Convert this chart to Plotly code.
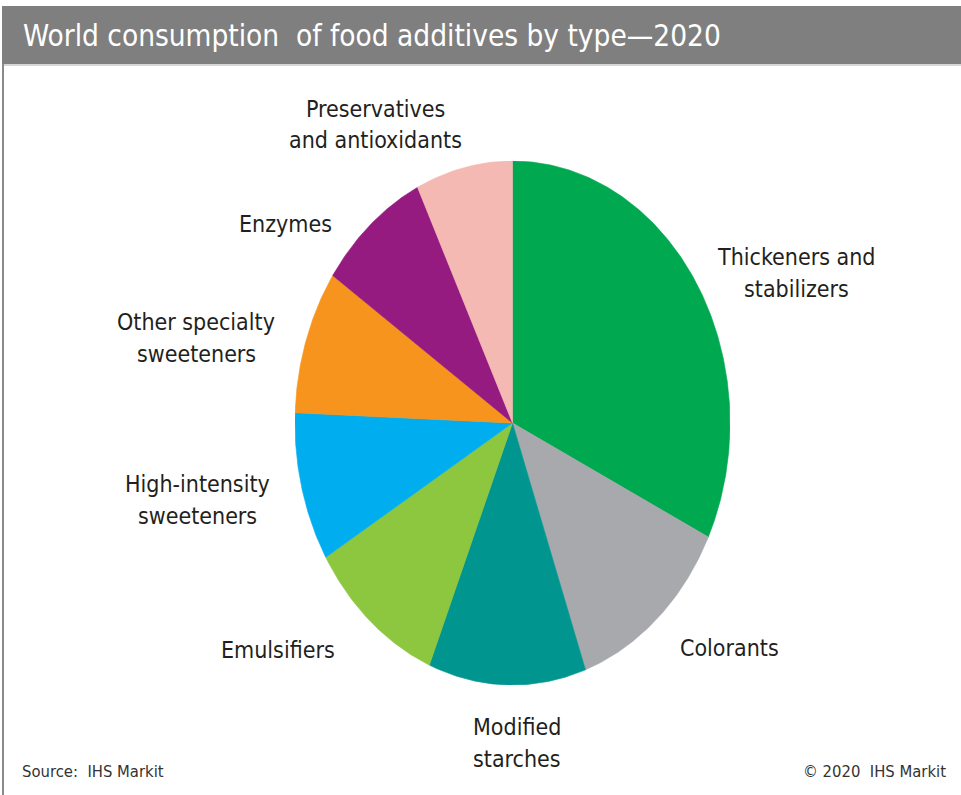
import numpy as np
import plotly.graph_objects as go

# Share of world food additive consumption, 2020 (percent), clockwise from 12 o'clock
categories = [
    "Thickeners and stabilizers",
    "Colorants",
    "Modified starches",
    "Emulsifiers",
    "High-intensity sweeteners",
    "Other specialty sweeteners",
    "Enzymes",
    "Preservatives and antioxidants",
]
shares = [32.2, 12.4, 11.7, 10.2, 9.2, 8.9, 8.3, 7.2]
colors = ["#00A84F", "#A7A9AC", "#00958F", "#8DC63F",
          "#00AEEF", "#F7941D", "#951B81", "#F4B9B2"]

# Slice label lines and their centre positions (pixels on a 961x795 page)
label_lines = [
    (["Thickeners and", "stabilizers"], 796, 257),
    (["Colorants"], 729, 648),
    (["Modified", "starches"], 517, 727),
    (["Emulsifiers"], 278, 650),
    (["High-intensity", "sweeteners"], 197, 484),
    (["Other specialty", "sweeteners"], 196, 322),
    (["Enzymes"], 285, 224),
    (["Preservatives", "and antioxidants"], 375, 109),
]

W, H = 961, 795
NARROW = "DejaVu Sans Condensed, Liberation Sans Narrow, Arial Narrow, sans-serif"


def px(x):
    return x / W


def py(y):
    return 1 - y / H


fig = go.Figure()

# Pie drawn as filled wedges on a [-1, 1] x [-1, 1] axis pair
total = sum(shares)
start = 0.0
for name, val, col in zip(categories, shares, colors):
    sweep = 360.0 * val / total
    th = np.radians(np.linspace(start, start + sweep, max(int(sweep * 2), 8)))
    xs = np.concatenate([[0.0], np.sin(th), [0.0]])
    ys = np.concatenate([[0.0], np.cos(th), [0.0]])
    fig.add_trace(go.Scatter(
        x=xs, y=ys, mode="lines", fill="toself",
        fillcolor=col, line=dict(color=col, width=0.6),
        name=name, hoverinfo="text",
        text=f"{name}: {val:.1f}%", showlegend=False,
    ))
    start += sweep

# Slice labels
for lines, cx, cy in label_lines:
    for i, t in enumerate(lines):
        yy = cy + i * 31.5
        fig.add_annotation(
            text=t, x=px(cx), y=py(yy), xref="paper", yref="paper",
            xanchor="center", yanchor="middle", showarrow=False,
            font=dict(family=NARROW, size=23, color="#231F20"),
        )

# Header band
fig.add_shape(type="rect", xref="paper", yref="paper",
              x0=px(2), x1=1, y0=py(64), y1=py(6),
              fillcolor="#7F7F7F", line=dict(width=0), layer="below")
fig.add_shape(type="line", xref="paper", yref="paper",
              x0=px(2), x1=1, y0=py(65), y1=py(65),
              line=dict(color="#C8C8C8", width=1.5))
# Left frame rule
fig.add_shape(type="line", xref="paper", yref="paper",
              x0=px(3), x1=px(3), y0=py(64), y1=0,
              line=dict(color="#8A8A8A", width=2))

fig.add_annotation(
    text="World consumption  of food additives by type\u20142020",
    x=px(21), y=py(36), xref="paper", yref="paper",
    xanchor="left", yanchor="middle", showarrow=False,
    font=dict(family=NARROW, size=29.5, color="#FFFFFF"),
)

fig.add_annotation(
    text="Source:  IHS Markit", x=px(20), y=py(771), xref="paper", yref="paper",
    xanchor="left", yanchor="middle", showarrow=False,
    font=dict(family=NARROW, size=16.5, color="#333333"),
)
fig.add_annotation(
    text="\u00a9 2020  IHS Markit", x=px(948), y=py(771), xref="paper", yref="paper",
    xanchor="right", yanchor="middle", showarrow=False,
    font=dict(family=NARROW, size=16.5, color="#333333"),
)

cx, cy, rx, ry = 512.5, 423.0, 217.5, 262.0
fig.update_layout(
    width=W, height=H,
    margin=dict(l=0, r=0, t=0, b=0),
    paper_bgcolor="#FFFFFF", plot_bgcolor="rgba(0,0,0,0)",
    xaxis=dict(domain=[px(cx - rx), px(cx + rx)], range=[-1, 1],
               visible=False, fixedrange=True),
    yaxis=dict(domain=[py(cy + ry), py(cy - ry)], range=[-1, 1],
               visible=False, fixedrange=True),
    showlegend=False,
)

fig.write_html("out.html", config={"displayModeBar": False})
